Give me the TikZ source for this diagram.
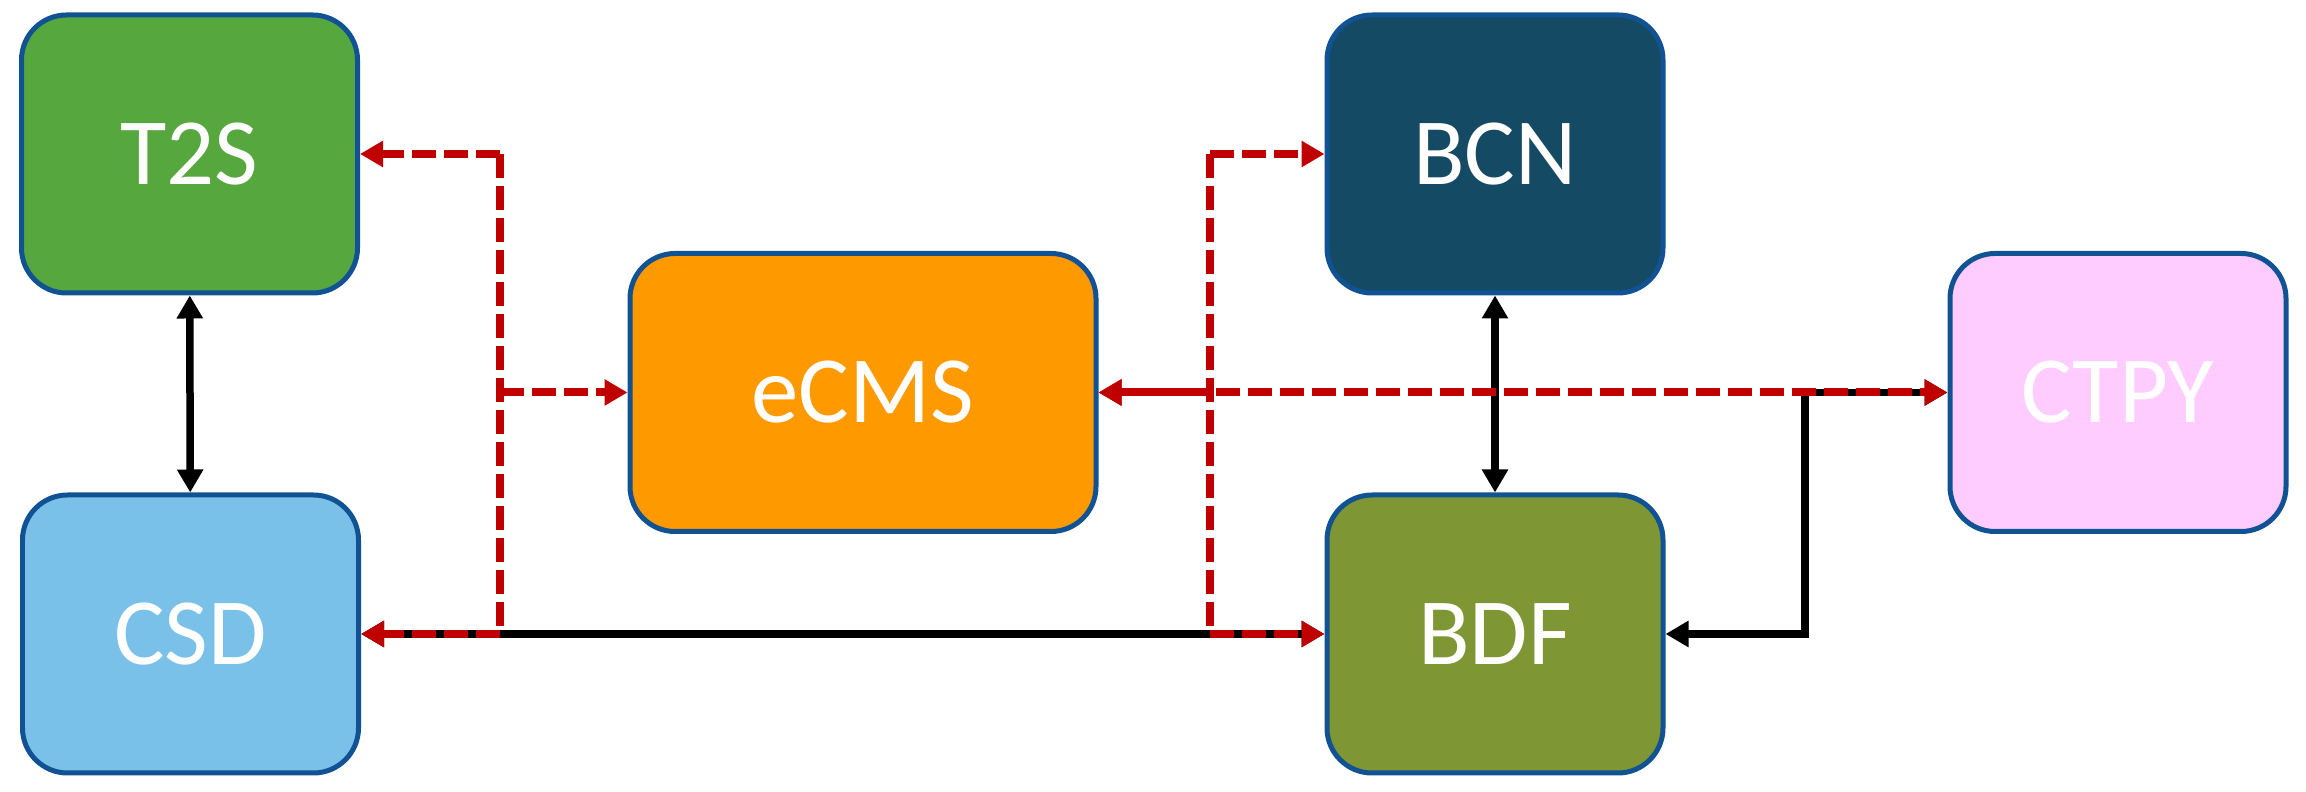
\documentclass[tikz,border=0pt]{standalone}
\usepackage{fontspec}
\setmainfont{Carlito}
\usetikzlibrary{arrows.meta,positioning}
\definecolor{boxborder}{RGB}{16,82,148}
\definecolor{t2sgreen}{RGB}{86,167,62}
\definecolor{csdblue}{RGB}{121,193,232}
\definecolor{ecmsorange}{RGB}{255,153,0}
\definecolor{bcnblue}{RGB}{20,74,100}
\definecolor{bdfgreen}{RGB}{126,150,52}
\definecolor{ctpypink}{RGB}{255,204,255}
\definecolor{linkred}{RGB}{192,0,0}
\begin{document}
\begin{tikzpicture}[
        >={Triangle[length=2.3mm,width=2.5mm]},
        sysbox/.style={draw=boxborder, line width=0.5mm, rounded corners=4.5mm,
            minimum width=3.36cm, minimum height=2.78cm, text=white,
            font=\fontsize{27}{30}\selectfont},
        redlink/.style={draw=linkred, line width=0.8mm, dash pattern=on 2.4mm off 0.8mm},
        blacklink/.style={draw=black, line width=0.75mm}
        ]
        \useasboundingbox (0,0) rectangle (23.06,-7.92);
        % systems
        \node [sysbox, fill=t2sgreen] (T2S) at (1.895,-1.54) {T2S};
        \node [sysbox, fill=csdblue] (CSD) at (1.905,-6.34) {CSD};
        \node [sysbox, fill=ecmsorange, minimum width=4.66cm] (eCMS) at (8.63,-3.925) {eCMS};
        \node [sysbox, fill=bcnblue] (BCN) at (14.95,-1.54) {BCN};
        \node [sysbox, fill=bdfgreen] (BDF) at (14.95,-6.34) {BDF};
        \node [sysbox, fill=ctpypink] (CTPY) at (21.18,-3.925) {CTPY};
        % bus points
        \coordinate (lefttop) at (5.0,-1.54);
        \coordinate (leftbot) at (5.0,-6.34);
        \coordinate (righttop) at (12.1,-1.54);
        \coordinate (rightbot) at (12.1,-6.34);
        \coordinate (ctpyturn) at (18.05,-3.925);
        % black links
        \draw [blacklink, <->] (T2S) -- (CSD);
        \draw [blacklink, <->] (BCN) -- (BDF);
        \draw [blacklink, <->] (CSD.east) -- (BDF.west);
        \draw [blacklink, <->] (CTPY.west) -- (ctpyturn) |- (BDF.east);
        % red links
        \draw [redlink] (lefttop) -- (leftbot);
        \draw [redlink, ->] (lefttop) -- (T2S.east);
        \draw [redlink, ->] (lefttop |- eCMS.west) -- (eCMS.west);
        \draw [redlink, ->] (leftbot) -- (CSD.east);
        \draw [redlink] (righttop) -- (rightbot);
        \draw [redlink, ->] (righttop) -- (BCN.west);
        \draw [redlink, ->] (rightbot) -- (BDF.west);
        \draw [redlink, dash phase=1.6mm, ->] (righttop |- eCMS.east) -- (eCMS.east);
        \draw [redlink, <->] (eCMS.east) -- (CTPY.west);
\end{tikzpicture}
\end{document}
